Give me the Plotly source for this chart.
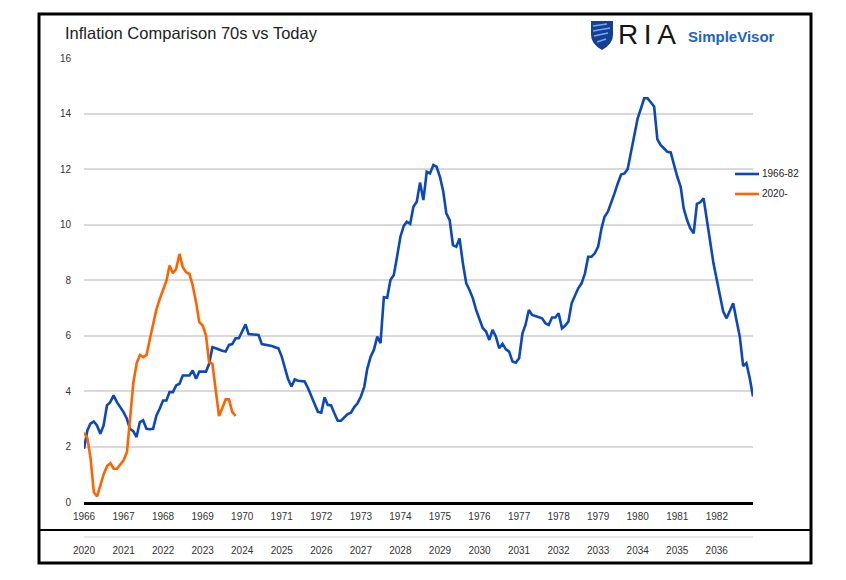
import pandas as pd
import plotly.graph_objects as go

# ---------------- data ----------------
title_text = "Inflation Comparison 70s vs Today"
name_70s = "1966-82"
name_now = "2020-"
start_70s, end_70s = "1966-01-01", "1982-12-01"
start_now, end_now = "2020-01-01", "2036-12-01"
y_ticks = [0, 2, 4, 6, 8, 10, 12, 14, 16]

cpi_1966_82 = [
    1.92, 2.58, 2.82, 2.90, 2.76, 2.46, 2.76, 3.48, 3.60, 3.84, 3.60, 3.42,   # 1966
    3.24, 3.00, 2.64, 2.55, 2.34, 2.88, 2.94, 2.64, 2.62, 2.64, 3.12, 3.36,   # 1967
    3.66, 3.66, 3.96, 3.96, 4.20, 4.26, 4.56, 4.56, 4.56, 4.74, 4.44, 4.70,   # 1968
    4.70, 4.70, 4.98, 5.58, 5.54, 5.48, 5.45, 5.42, 5.66, 5.69, 5.90, 5.90,   # 1969
    6.15, 6.40, 6.05, 6.04, 6.03, 6.02, 5.69, 5.67, 5.65, 5.62, 5.58, 5.54,   # 1970
    5.24, 4.76, 4.42, 4.16, 4.42, 4.37, 4.35, 4.34, 4.10, 3.80, 3.50, 3.25,   # 1971
    3.22, 3.77, 3.50, 3.48, 3.20, 2.93, 2.93, 3.05, 3.17, 3.22, 3.42, 3.56,   # 1972
    3.80, 4.15, 4.80, 5.24, 5.48, 5.96, 5.72, 7.38, 7.36, 8.00, 8.18, 8.84,   # 1973
    9.56, 9.95, 10.10, 10.02, 10.64, 10.82, 11.51, 10.88, 11.90, 11.84, 12.14, 12.08,  # 1974
    11.72, 11.18, 10.40, 10.16, 9.26, 9.20, 9.50, 8.60, 7.88, 7.64, 7.34, 6.92,  # 1975
    6.56, 6.26, 6.15, 5.84, 6.20, 5.96, 5.54, 5.70, 5.50, 5.42, 5.06, 5.02,   # 1976
    5.18, 6.08, 6.38, 6.92, 6.74, 6.70, 6.68, 6.62, 6.44, 6.38, 6.65, 6.65,   # 1977
    6.80, 6.26, 6.35, 6.50, 7.16, 7.46, 7.70, 7.88, 8.24, 8.84, 8.84, 8.96,   # 1978
    9.20, 9.86, 10.28, 10.46, 10.76, 11.12, 11.48, 11.80, 11.84, 12.00, 12.62, 13.28,  # 1979
    13.83, 14.19, 14.55, 14.55, 14.39, 14.25, 13.07, 12.86, 12.74, 12.62, 12.60, 12.14,  # 1980
    11.72, 11.36, 10.58, 10.16, 9.86, 9.68, 10.74, 10.80, 10.94, 10.16, 9.32, 8.60,  # 1981
    8.00, 7.40, 6.86, 6.62, 6.92, 7.16, 6.56, 5.96, 4.90, 5.00, 4.46, 3.80,   # 1982
]

cpi_2020_on = [
    2.50, 2.30, 1.60, 0.35, 0.20, 0.65, 1.00, 1.30, 1.40, 1.20, 1.20, 1.35,   # 2020
    1.50, 1.80, 2.90, 4.30, 5.00, 5.30, 5.22, 5.30, 5.88, 6.42, 6.96, 7.32,   # 2021
    7.62, 7.98, 8.52, 8.24, 8.40, 8.94, 8.46, 8.28, 8.22, 7.80, 7.20, 6.48,   # 2022
    6.36, 6.00, 5.04, 4.98, 4.05, 3.10, 3.38, 3.70, 3.70, 3.25, 3.10,         # 2023
]

dates_70s = pd.date_range(start_70s, periods=len(cpi_1966_82), freq="MS")
dates_now = pd.date_range(start_now, periods=len(cpi_2020_on), freq="MS")

# ---------------- style ----------------
BLUE = "#0b47bd"
ORANGE = "#ff6300"
FONT = "Liberation Sans, Arial, sans-serif"
OFF = 8                          # page body margin
W, H = 846 - OFF, 580 - OFF
# plot-area box in page pixels
L, R, T, B = 84 - OFF, 753 - OFF, 58 - OFF, 537 - OFF
Y0 = 502 - OFF                   # row of value 0


def px(x):
    return (x - OFF - L) / (R - L)


def py(y):
    return (B - (y - OFF)) / (B - T)


fig = go.Figure()
fig.add_trace(go.Scatter(x=dates_70s, y=cpi_1966_82, mode="lines", name=name_70s,
                         line=dict(color=BLUE, width=2.6), xaxis="x", yaxis="y",
                         showlegend=False))
fig.add_trace(go.Scatter(x=dates_now, y=cpi_2020_on, mode="lines", name=name_now,
                         line=dict(color=ORANGE, width=2.6), xaxis="x2", yaxis="y",
                         showlegend=False))

tickfont = dict(family=FONT, size=10, color="#333333")
fig.update_layout(
    width=W, height=H,
    margin=dict(l=L, r=W - R, t=T, b=H - B, pad=0),
    paper_bgcolor="white", plot_bgcolor="white",
    font=dict(family=FONT, size=10, color="#333333"),
    xaxis=dict(range=[start_70s, end_70s], anchor="y", tick0=start_70s, dtick="M12",
               tickformat="%Y", showgrid=False, zeroline=False, showline=True,
               linecolor="black", linewidth=3, ticks="outside", ticklen=3,
               tickcolor="rgba(0,0,0,0)", tickfont=tickfont),
    xaxis2=dict(range=[start_now, end_now], overlaying="x", anchor="free", position=0,
                side="bottom", tick0=start_now, dtick="M12", tickformat="%Y",
                showgrid=False, zeroline=False, showline=True, linecolor="#e8e8e8",
                linewidth=2, ticks="outside", ticklen=4, tickcolor="rgba(0,0,0,0)",
                tickfont=tickfont),
    yaxis=dict(domain=[(B - Y0) / (B - T), 1], range=[0, 16], tickvals=y_ticks,
               showgrid=True, gridcolor="#d9d9d9", gridwidth=1.5, zeroline=False,
               showline=False, ticks="outside", ticklen=10, tickcolor="rgba(0,0,0,0)",
               tickfont=tickfont),
)

shapes = []
# outer frame and row separator
shapes.append(dict(type="rect", xref="paper", yref="paper", x0=px(39), x1=px(811),
                   y0=py(563), y1=py(14), line=dict(color="black", width=3),
                   fillcolor="rgba(0,0,0,0)", layer="above"))
shapes.append(dict(type="line", xref="paper", yref="paper", x0=px(39), x1=px(811),
                   y0=py(530), y1=py(530), line=dict(color="black", width=2)))


def ppath(cmds):
    out = []
    for c in cmds:
        if isinstance(c, str):
            out.append(c)
        else:
            out.append(f"{px(c[0]):.5f},{py(c[1]):.5f}")
    return " ".join(out)


# logo shield
shapes.append(dict(type="path", xref="paper", yref="paper",
                   path=ppath(["M", (591, 21), "L", (613, 21), "L", (613, 35),
                               "Q", (613, 44), (602, 50), "Q", (591, 44), (591, 35), "Z"]),
                   fillcolor="#163f8f", line=dict(width=0)))
for (xa, ya, xb, yb) in [(593, 26, 607, 24), (593, 31, 610, 28), (594, 36, 608, 33), (597, 42, 606, 39)]:
    shapes.append(dict(type="line", xref="paper", yref="paper", x0=px(xa), y0=py(ya),
                       x1=px(xb), y1=py(yb), line=dict(color="#6fa8ff", width=1.5)))

# legend samples
shapes.append(dict(type="line", xref="paper", yref="paper", x0=px(735), x1=px(759),
                   y0=py(174), y1=py(174), line=dict(color=BLUE, width=2.6)))
shapes.append(dict(type="line", xref="paper", yref="paper", x0=px(735), x1=px(759),
                   y0=py(194), y1=py(194), line=dict(color=ORANGE, width=2.6)))
fig.update_layout(shapes=shapes)

ann = [
    dict(text=title_text, x=px(63), y=py(33), xanchor="left", yanchor="middle",
         font=dict(family=FONT, size=16.5, color="#222222")),
    dict(text="R\u2009I\u2009A", x=px(616), y=py(35), xanchor="left", yanchor="middle",
         font=dict(family=FONT, size=28, color="#151515")),
    dict(text="<b>SimpleVisor</b>", x=px(686), y=py(37), xanchor="left", yanchor="middle",
         font=dict(family=FONT, size=15, color="#1e63c4")),
    dict(text=name_70s, x=px(760), y=py(174), xanchor="left", yanchor="middle",
         font=dict(family=FONT, size=10, color="#222222")),
    dict(text=name_now, x=px(760), y=py(194), xanchor="left", yanchor="middle",
         font=dict(family=FONT, size=10, color="#222222")),
]
for a in ann:
    a.update(xref="paper", yref="paper", showarrow=False)
fig.update_layout(annotations=ann)

fig.write_html("out.html")
